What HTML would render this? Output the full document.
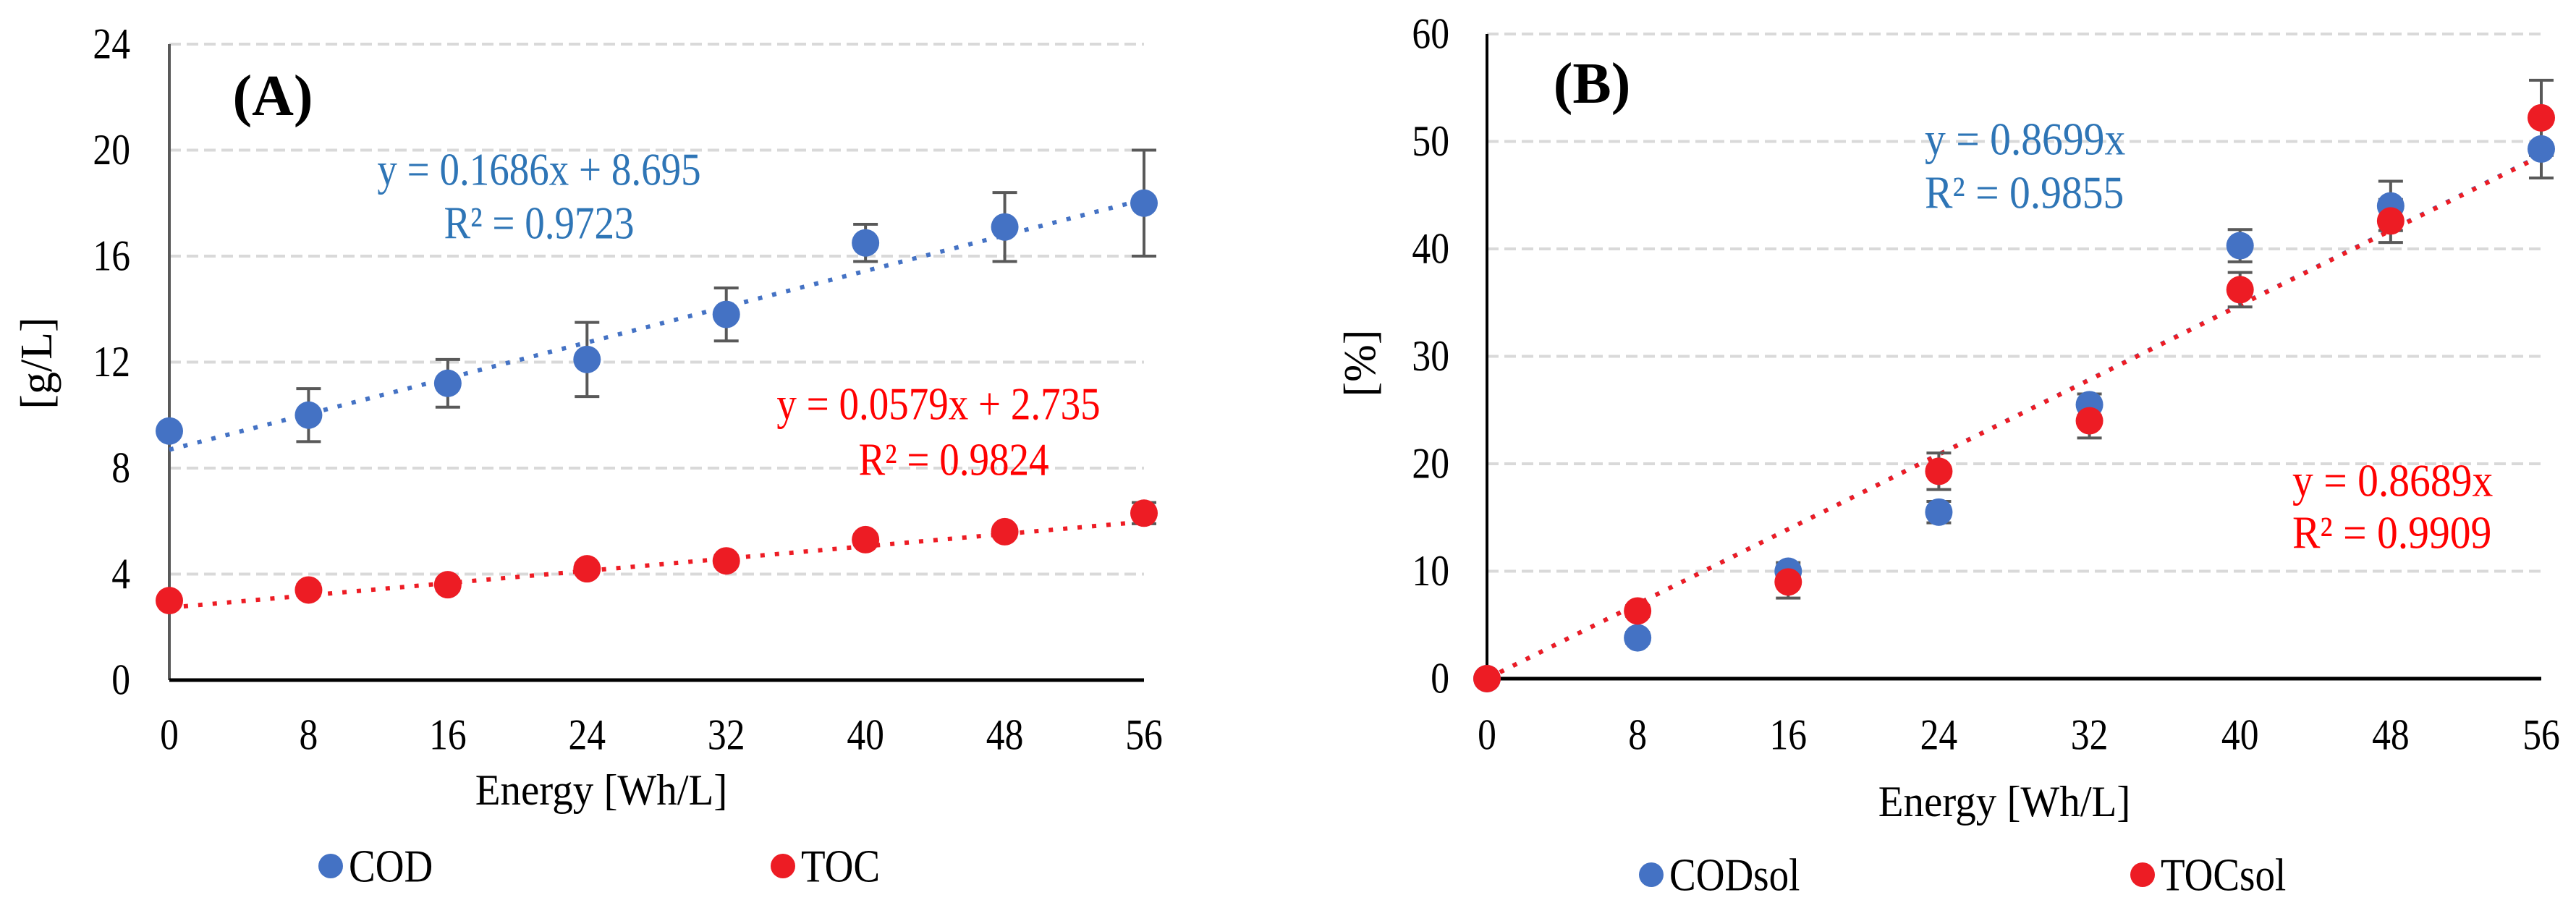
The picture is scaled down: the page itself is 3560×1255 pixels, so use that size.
<!DOCTYPE html>
<html><head><meta charset="utf-8"><style>
html,body{margin:0;padding:0;background:#fff}
svg{display:block}
text{font-family:"Liberation Serif",serif}
</style></head><body>
<svg id="chart" width="3560" height="1255" viewBox="0 0 3560 1255" xmlns="http://www.w3.org/2000/svg"></svg>
<script>
const xCats = [0, 8, 16, 24, 32, 40, 48, 56];
const codA = [9.4, 10.0, 11.2, 12.1, 13.8, 16.5, 17.1, 18.0];
const codAErr = [0, 1.0, 0.9, 1.4, 1.0, 0.7, 1.3, 2.0];
const tocA = [3.0, 3.4, 3.6, 4.2, 4.5, 5.3, 5.6, 6.3];
const tocAErr = [0, 0.2, 0.2, 0.2, 0.2, 0.2, 0.2, 0.4];
const yTicksA = [0, 4, 8, 12, 16, 20, 24];
const codB = [0, 3.8, 10.0, 15.5, 25.5, 40.3, 44.0, 49.3];
const codBErr = [0, 0.5, 0.8, 1.0, 1.0, 1.5, 2.3, 2.7];
const tocB = [0, 6.3, 9.0, 19.3, 24.0, 36.2, 42.6, 52.2];
const tocBErr = [0, 0.5, 1.5, 1.7, 1.6, 1.6, 2.0, 3.5];
const yTicksB = [0, 10, 20, 30, 40, 50, 60];
const trendA = [[0.1686, 8.695], [0.0579, 2.735]];
const trendB = [[0.8699, 0], [0.8689, 0]];

const NS = "http://www.w3.org/2000/svg";
const svg = document.getElementById('chart');
const BLUE = "#4472C4", RED = "#ED1C24";
function mk(tag, attrs, parent) {
  const e = document.createElementNS(NS, tag);
  for (const k in attrs) e.setAttribute(k, attrs[k]);
  (parent || svg).appendChild(e);
  return e;
}
function txt(str, x, y, size, anchor, fill, weight, parent, sx) {
  const g = mk('g', {transform: 'translate(' + x + ',' + y + ') scale(' + (sx || 0.86) + ',1)'}, parent);
  const t = mk('text', {x: 0, y: 0, 'font-size': size, 'text-anchor': anchor, 'dominant-baseline': 'central', fill: fill || '#000', 'font-weight': weight || 'normal'}, g);
  t.textContent = str;
  return g;
}

function panel(cfg) {
  const g = mk('g', {});
  
  
  const X = v => cfg.x0 + (v - 0) / 56 * (cfg.x1 - cfg.x0);
  const Y = v => cfg.y0 - v / cfg.ymax * (cfg.y0 - cfg.y1);
  cfg.yTicks.forEach(t => {
    if (t > 0) {
      const l = mk('line', {x1: cfg.x0, x2: cfg.x1, y1: Y(t), y2: Y(t), stroke: '#d9d9d9', 'stroke-width': 4, 'stroke-dasharray': '16 8'}, g);
      
      
    }
    const lb = txt(String(t), cfg.yLabelRight, Y(t), 60, 'end', '#000', 'normal', g);
    
    
  });
  xCats.forEach(c => {
    const lb = txt(String(c), X(c), 1016, 60, 'middle', '#000', 'normal', g);
    
    
  });
  const ya = mk('line', {x1: cfg.x0, x2: cfg.x0, y1: cfg.y1, y2: cfg.y0, stroke: cfg.yAxisColor, 'stroke-width': 4}, g);
  
  
  const xa = mk('line', {x1: cfg.x0, x2: cfg.x1, y1: cfg.y0, y2: cfg.y0, stroke: '#000', 'stroke-width': 5}, g);
  
  
  cfg.series.forEach(s => {
    const sg = mk('g', {}, g);
    
    
    const tl = mk('line', {x1: X(0), y1: Y(s.trend[1]), x2: X(56), y2: Y(s.trend[0] * 56 + s.trend[1]), stroke: s.color, 'stroke-width': 6, 'stroke-dasharray': '6 14'}, sg);
    
    
  });
  cfg.series.forEach(s => {
    xCats.forEach((c, i) => {
      const e = s.err[i], v = s.vals[i];
      if (e > 0) {
        const eb = mk('path', {d: 'M' + X(c) + ',' + Y(v + e) + 'V' + Y(v - e) + 'M' + (X(c) - 17) + ',' + Y(v + e) + 'h34M' + (X(c) - 17) + ',' + Y(v - e) + 'h34', stroke: '#595959', 'stroke-width': 4, fill: 'none'}, g);
        
        
      }
    });
  });
  cfg.series.forEach(s => {
    xCats.forEach((c, i) => {
      const p = mk('circle', {cx: X(c), cy: Y(s.vals[i]), r: 19, fill: s.color}, g);
      
      
    });
  });
}

panel({name: 'panel-a', x0: 234, x1: 1581, y0: 940, y1: 61, ymax: 24, yTicks: yTicksA, yLabelRight: 180, yAxisColor: '#595959',
  series: [{name: 'cod', color: BLUE, vals: codA, err: codAErr, trend: trendA[0]}, {name: 'toc', color: RED, vals: tocA, err: tocAErr, trend: trendA[1]}]});
panel({name: 'panel-b', x0: 2055, x1: 3512, y0: 938, y1: 47, ymax: 60, yTicks: yTicksB, yLabelRight: 2003, yAxisColor: '#000',
  series: [{name: 'codsol', color: BLUE, vals: codB, err: codBErr, trend: trendB[0]}, {name: 'tocsol', color: RED, vals: tocB, err: tocBErr, trend: trendB[1]}]});

function named(el, n) {   }
const EQ = 0.86;
named(txt('(A)', 377, 133, 80, 'middle', '#000', 'bold', null, 1), 'panel-a-label');
named(txt('(B)', 2200, 116, 80, 'middle', '#000', 'bold', null, 1), 'panel-b-label');
named(txt('y = 0.1686x + 8.695', 745, 234, 64, 'middle', '#2E75B6', 'normal', null, EQ), 'cod-equation');
named(txt('R² = 0.9723', 745, 308, 64, 'middle', '#2E75B6', 'normal', null, EQ), 'cod-r-squared');
named(txt('y = 0.0579x + 2.735', 1297, 558, 64, 'middle', '#FF0000', 'normal', null, EQ), 'toc-equation');
named(txt('R² = 0.9824', 1318, 635, 64, 'middle', '#FF0000', 'normal', null, EQ), 'toc-r-squared');
named(txt('y = 0.8699x', 2660, 193, 64, 'start', '#2E75B6', 'normal', null, 0.9), 'codsol-equation');
named(txt('R² = 0.9855', 2660, 267, 64, 'start', '#2E75B6', 'normal', null, 0.9), 'codsol-r-squared');
named(txt('y = 0.8689x', 3168, 665, 64, 'start', '#FF0000', 'normal', null, 0.9), 'tocsol-equation');
named(txt('R² = 0.9909', 3168, 737, 64, 'start', '#FF0000', 'normal', null, 0.9), 'tocsol-r-squared');
named(txt('Energy [Wh/L]', 831, 1092, 60, 'middle', '#000', 'normal', null, 0.95), 'x-axis-title-a');
named(txt('Energy [Wh/L]', 2770, 1108, 60, 'middle', '#000', 'normal', null, 0.95), 'x-axis-title-b');
const ta = mk('text', {x: 0, y: 0, 'font-size': 62, 'text-anchor': 'middle', 'dominant-baseline': 'central', transform: 'translate(51,502) rotate(-90)'});
ta.textContent = '[g/L]'; named(ta, 'y-axis-title-a');
const tb = mk('text', {x: 0, y: 0, 'font-size': 62, 'text-anchor': 'middle', 'dominant-baseline': 'central', transform: 'translate(1880,502) rotate(-90)'});
tb.textContent = '[%]'; named(tb, 'y-axis-title-b');
[[457, 1197, BLUE, 'COD'], [1082, 1197, RED, 'TOC'], [2282, 1209, BLUE, 'CODsol'], [2961, 1209, RED, 'TOCsol']].forEach(L => {
  const lg = mk('g', {});
  
  
  mk('circle', {cx: L[0], cy: L[1], r: 17, fill: L[2]}, lg);
  txt(L[3], L[0] + 25, L[1], 64, 'start', '#000', 'normal', lg);
});
</script>
</body></html>
